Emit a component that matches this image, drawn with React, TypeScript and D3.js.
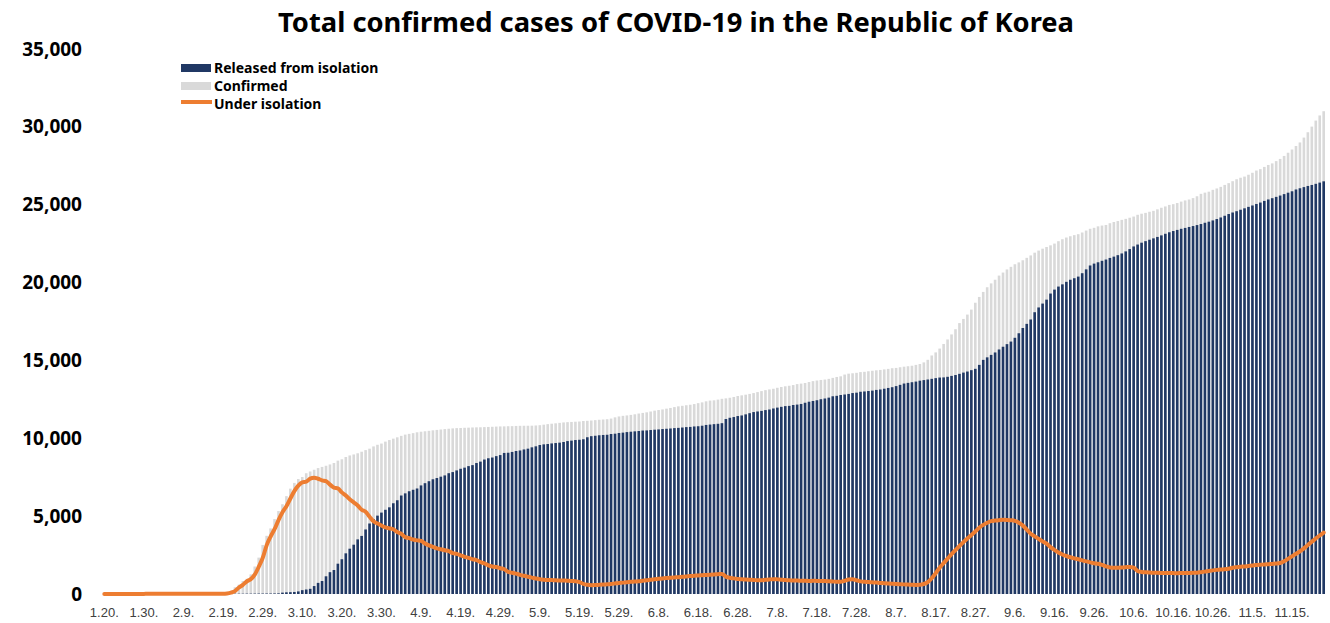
import * as React from "react";
import * as d3 from "d3";

const navy: string = "#203864";
const grey: string = "#d9d9d9";
const orange: string = "#ed7d31";

const title: string = "Total confirmed cases of COVID-19 in the Republic of Korea";

// daily values, 1.20. .. 11.23. (one line per month)
const confirmed: number[] = [
    1, 1, 1, 1, 2, 2, 3, 4, 4, 4, 6, 11,
    12, 15, 15, 16, 19, 23, 24, 24, 27, 27, 28, 28, 28, 28, 28, 29, 30, 31, 51, 104, 204, 433, 602, 833, 977, 1261, 1766, 2337, 3150,
    3736, 4212, 4812, 5328, 5766, 6284, 6767, 7134, 7382, 7513, 7755, 7869, 7979, 8086, 8162, 8236, 8320, 8413, 8565, 8652, 8799, 8897, 8961, 9037, 9137, 9241, 9332, 9478, 9583, 9661, 9786,
    9887, 9976, 10062, 10156, 10237, 10284, 10331, 10384, 10423, 10450, 10480, 10512, 10537, 10564, 10591, 10613, 10635, 10653, 10661, 10674, 10683, 10694, 10702, 10708, 10718, 10728, 10738, 10752, 10761, 10765,
    10774, 10780, 10793, 10801, 10804, 10806, 10810, 10822, 10840, 10874, 10909, 10936, 10962, 10991, 11018, 11037, 11050, 11065, 11078, 11110, 11122, 11142, 11165, 11190, 11206, 11225, 11265, 11344, 11402, 11441, 11468,
    11503, 11541, 11590, 11629, 11668, 11719, 11776, 11814, 11852, 11902, 11947, 12003, 12051, 12085, 12121, 12155, 12198, 12257, 12306, 12373, 12421, 12438, 12484, 12535, 12563, 12602, 12653, 12715, 12757, 12800,
    12850, 12904, 12967, 13030, 13091, 13137, 13181, 13244, 13293, 13338, 13373, 13417, 13479, 13512, 13551, 13612, 13672, 13711, 13745, 13771, 13816, 13879, 13938, 13979, 14092, 14150, 14175, 14203, 14251, 14269, 14305,
    14336, 14366, 14389, 14423, 14456, 14499, 14519, 14562, 14598, 14626, 14660, 14714, 14770, 14873, 15039, 15318, 15515, 15761, 16058, 16346, 16670, 17002, 17399, 17665, 17945, 18265, 18706, 19077, 19400, 19699, 19947,
    20182, 20449, 20644, 20842, 21010, 21177, 21296, 21432, 21588, 21743, 21919, 22055, 22176, 22285, 22391, 22504, 22657, 22783, 22893, 22975, 23045, 23106, 23216, 23341, 23455, 23516, 23611, 23661, 23699, 23812,
    23889, 23952, 24027, 24091, 24164, 24239, 24353, 24422, 24476, 24548, 24606, 24703, 24805, 24889, 24988, 25035, 25108, 25199, 25275, 25333, 25424, 25543, 25698, 25775, 25836, 25955, 26043, 26146, 26271, 26385, 26511,
    26635, 26732, 26807, 26925, 27050, 27195, 27284, 27427, 27553, 27653, 27799, 27942, 28133, 28338, 28546, 28769, 28998, 29311, 29654, 30017, 30403, 30733, 31004
];

const released: number[] = [
    0, 0, 0, 0, 0, 0, 0, 0, 0, 0, 0, 0,
    0, 0, 0, 0, 1, 2, 2, 2, 3, 3, 4, 7, 7, 7, 9, 9, 10, 12, 16, 16, 16, 16, 18, 18, 22, 22, 24, 27, 27,
    30, 31, 34, 41, 88, 108, 118, 130, 166, 247, 288, 333, 510, 714, 834, 1137, 1401, 1540, 1947, 2233, 2612, 2909, 3166, 3507, 3730, 4144, 4528, 4811, 5033, 5228, 5408,
    5567, 5828, 6021, 6325, 6463, 6598, 6694, 6776, 6973, 7117, 7243, 7368, 7447, 7534, 7616, 7757, 7829, 7937, 8042, 8114, 8213, 8277, 8411, 8501, 8635, 8717, 8764, 8854, 8922, 9059,
    9072, 9123, 9183, 9217, 9283, 9333, 9419, 9484, 9568, 9610, 9632, 9670, 9695, 9720, 9762, 9821, 9851, 9888, 9904, 9938, 10066, 10135, 10162, 10194, 10213, 10226, 10275, 10295, 10340, 10363, 10398,
    10422, 10446, 10467, 10499, 10506, 10531, 10552, 10570, 10593, 10611, 10629, 10654, 10669, 10691, 10718, 10730, 10760, 10774, 10806, 10856, 10881, 10908, 10930, 10970, 11237, 11317, 11364, 11429, 11466, 11537,
    11613, 11684, 11722, 11759, 11811, 11848, 11914, 11970, 12019, 12066, 12082, 12138, 12164, 12204, 12282, 12348, 12396, 12444, 12509, 12555, 12610, 12698, 12727, 12780, 12812, 12849, 12905, 12929, 12987, 13007, 13035,
    13063, 13106, 13133, 13183, 13233, 13280, 13352, 13431, 13516, 13559, 13601, 13642, 13699, 13737, 13775, 13817, 13863, 13901, 13910, 13948, 14006, 14063, 14138, 14219, 14287, 14375, 14461, 14714, 15036, 15198, 15356,
    15512, 15703, 15879, 16046, 16211, 16454, 16745, 17082, 17348, 17629, 18096, 18402, 18651, 18903, 19295, 19548, 19744, 19886, 20047, 20181, 20279, 20384, 20601, 20848, 21097, 21218, 21303, 21398, 21479, 21582,
    21666, 21760, 21870, 22003, 22151, 22320, 22442, 22561, 22660, 22751, 22840, 22931, 23030, 23133, 23230, 23310, 23381, 23452, 23510, 23571, 23630, 23692, 23760, 23841, 23910, 23992, 24080, 24181, 24290, 24402, 24500,
    24583, 24677, 24769, 24862, 24951, 25048, 25139, 25244, 25337, 25419, 25503, 25588, 25681, 25772, 25863, 25978, 26057, 26131, 26204, 26268, 26341, 26419, 26502
];

const underIsolation: number[] = [
    1, 1, 1, 1, 2, 2, 3, 4, 4, 4, 6, 11,
    12, 15, 15, 16, 18, 21, 22, 22, 24, 24, 24, 21, 21, 21, 19, 20, 20, 19, 19, 35, 88, 188, 417, 584, 815, 955, 1239, 1742, 2310,
    3122, 3689, 4159, 4750, 5255, 5643, 6134, 6604, 6954, 7165, 7212, 7407, 7470, 7402, 7300, 7253, 7024, 6838, 6789, 6527, 6325, 6085, 5884, 5684, 5410, 5281, 4966, 4665, 4523, 4398, 4275,
    4216, 4155, 3979, 3869, 3654, 3591, 3500, 3445, 3408, 3246, 3125, 3026, 2930, 2873, 2808, 2750, 2627, 2576, 2484, 2385, 2324, 2233, 2179, 2051, 1967, 1843, 1769, 1731, 1654, 1593,
    1421, 1368, 1307, 1232, 1168, 1109, 1052, 991, 948, 921, 903, 892, 879, 871, 862, 851, 838, 818, 762, 654, 598, 566, 571, 587, 603, 622, 648, 679, 708, 731, 758,
    781, 798, 822, 851, 879, 918, 951, 973, 996, 1021, 1043, 1062, 1079, 1101, 1128, 1157, 1176, 1189, 1206, 1222, 1241, 1259, 1273, 1291, 1118, 1042, 1003, 962, 944, 931,
    916, 897, 881, 889, 911, 936, 951, 939, 916, 894, 879, 871, 861, 852, 843, 839, 846, 841, 838, 829, 814, 801, 786, 779, 851, 929, 952, 883, 812, 781, 764,
    749, 731, 712, 693, 674, 659, 644, 631, 618, 604, 596, 584, 591, 642, 763, 1014, 1332, 1689, 1981, 2268, 2557, 2823, 3081, 3329, 3563, 3789, 4012, 4258, 4441, 4579, 4683,
    4718, 4743, 4762, 4755, 4738, 4701, 4577, 4398, 4131, 3869, 3702, 3538, 3379, 3231, 3012, 2829, 2661, 2538, 2441, 2358, 2289, 2231, 2158, 2092, 2031, 1979, 1938, 1871, 1779, 1702,
    1683, 1691, 1702, 1719, 1738, 1697, 1481, 1418, 1399, 1382, 1368, 1359, 1351, 1346, 1344, 1341, 1338, 1344, 1349, 1352, 1357, 1371, 1402, 1438, 1479, 1518, 1549, 1572, 1591, 1623, 1681,
    1718, 1749, 1772, 1801, 1828, 1859, 1881, 1902, 1918, 1933, 1952, 1991, 2102, 2258, 2419, 2581, 2742, 2931, 3148, 3352, 3561, 3759, 3948
];

const tickLabels: string[] = [
    "1.20.", "1.30.", "2.9.", "2.19.", "2.29.", "3.10.", "3.20.", "3.30.", "4.9.", "4.19.", "4.29.",
    "5.9.", "5.19.", "5.29.", "6.8.", "6.18.", "6.28.", "7.8.", "7.18.", "7.28.", "8.7.", "8.17.",
    "8.27.", "9.6.", "9.16.", "9.26.", "10.6.", "10.16.", "10.26.", "11.5.", "11.15."
];
const yTicks: number[] = [0, 5000, 10000, 15000, 20000, 25000, 30000, 35000];
const legendLabels: string[] = ["Released from isolation", "Confirmed", "Under isolation"];

const dayFormat: (d: Date) => string = d3.timeFormat("%-m.%-d.");
const days: string[] = d3.timeDay.range(new Date(2020, 0, 20), new Date(2020, 10, 24)).map(dayFormat);

interface ChartProps {
    width: number;
    height: number;
    graphId: string;
}

class CasesChart extends React.PureComponent<ChartProps> {
    private xScale: d3.ScaleBand<number>;
    private yScale: d3.ScaleLinear<number, number>;

    public componentDidMount(): void {
        this.drawGraph();
    }

    public render(): JSX.Element {
        return <div id={this.props.graphId}></div>;
    }

    private drawGraph(): void {
        d3.select(`#${this.props.graphId}`).selectAll("*").remove();
        const svg = d3.select(`#${this.props.graphId}`)
            .append("svg")
            .attr("width", this.props.width)
            .attr("height", this.props.height)
            .style("position", "absolute")
            .style("left", "0px")
            .style("top", "0px")
            .style("background", "#ffffff");

        const n: number = confirmed.length;
        this.xScale = d3.scaleBand<number>()
            .domain(d3.range(n))
            .range([103, 1325])
            .paddingInner(0.34)
            .paddingOuter(0);
        this.yScale = d3.scaleLinear()
            .domain([0, 35000])
            .range([594, 49]);
        const x = this.xScale;
        const y = this.yScale;
        const half: number = x.bandwidth() / 2;

        svg.append("text")
            .attr("x", 676)
            .attr("y", 32)
            .attr("text-anchor", "middle")
            .attr("textLength", 796)
            .attr("lengthAdjust", "spacingAndGlyphs")
            .style("font-family", "'Noto Sans', sans-serif")
            .style("font-weight", "bold")
            .style("font-size", "26px")
            .style("fill", "#000000")
            .text(title);

        svg.append("g")
            .selectAll("rect")
            .data(confirmed)
            .join("rect")
            .attr("x", (d: number, i: number) => x(i))
            .attr("y", (d: number) => y(d))
            .attr("width", x.bandwidth())
            .attr("height", (d: number) => y(0) - y(d))
            .attr("fill", grey);

        svg.append("g")
            .selectAll("rect")
            .data(released)
            .join("rect")
            .attr("x", (d: number, i: number) => x(i))
            .attr("y", (d: number) => y(d))
            .attr("width", x.bandwidth())
            .attr("height", (d: number) => y(0) - y(d))
            .attr("fill", navy);

        const line = d3.line<number>()
            .x((d: number, i: number) => x(i) + half)
            .y((d: number) => y(d))
            .curve(d3.curveMonotoneX);
        svg.append("path")
            .datum(underIsolation)
            .attr("d", line)
            .attr("fill", "none")
            .attr("stroke", orange)
            .attr("stroke-width", 4)
            .attr("stroke-linejoin", "round")
            .attr("stroke-linecap", "round");

        // value axis: labels only
        const yAxis = d3.axisLeft(y)
            .tickValues(yTicks)
            .tickFormat(d3.format(","))
            .tickSize(0)
            .tickPadding(0);
        const yG = svg.append("g")
            .attr("transform", "translate(82,0)")
            .call(yAxis);
        yG.select(".domain").remove();
        yG.selectAll("text")
            .style("font-family", "'Noto Sans', sans-serif")
            .style("font-weight", "bold")
            .style("font-size", "19px")
            .style("fill", "#000000");

        // category axis: a label every ten days
        const tickIdx: number[] = tickLabels.map((t: string) => days.indexOf(t));
        const xAxis = d3.axisBottom(x)
            .tickValues(tickIdx)
            .tickFormat((i: number) => days[i])
            .tickSize(0)
            .tickPadding(14);
        const xG = svg.append("g")
            .attr("transform", "translate(0,594)")
            .call(xAxis);
        xG.select(".domain").remove();
        xG.selectAll("text")
            .style("font-family", "'Liberation Sans', Arial, sans-serif")
            .style("font-size", "13px")
            .style("fill", "#404040");

        const legend = svg.append("g").attr("transform", "translate(181,0)");
        legend.append("rect").attr("x", 0).attr("y", 64).attr("width", 30).attr("height", 8).attr("fill", navy);
        legend.append("rect").attr("x", 0).attr("y", 82).attr("width", 30).attr("height", 8).attr("fill", grey);
        legend.append("line")
            .attr("x1", 0).attr("x2", 31)
            .attr("y1", 102).attr("y2", 102)
            .attr("stroke", orange)
            .attr("stroke-width", 4);
        legend.selectAll("text.lbl")
            .data(legendLabels)
            .join("text")
            .attr("class", "lbl")
            .attr("x", 33)
            .attr("y", (d: string, i: number) => 73 + i * 18)
            .style("font-family", "'Noto Sans', sans-serif")
            .style("font-weight", "bold")
            .style("font-size", "14px")
            .style("fill", "#000000")
            .text((d: string) => d);
    }
}

export default function App(): JSX.Element {
    return <CasesChart width={1330} height={623} graphId="covidChart" />;
}
